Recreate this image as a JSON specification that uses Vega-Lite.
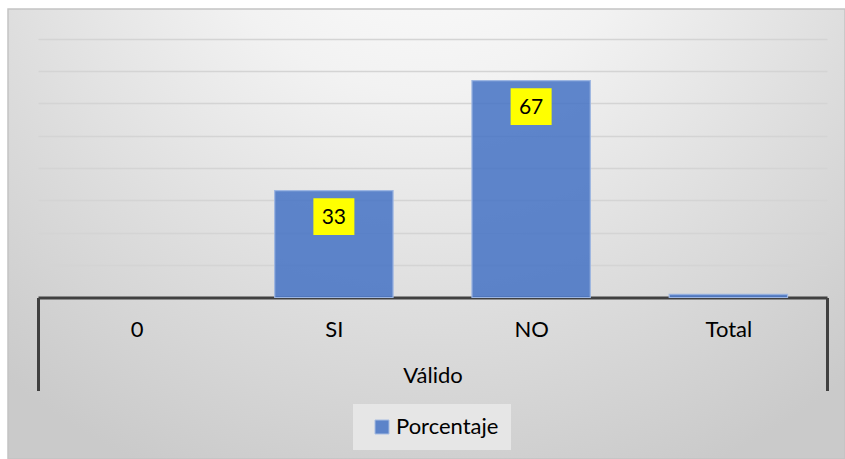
{
  "$schema": "https://vega.github.io/schema/vega-lite/v6.json",
  "width": 837,
  "height": 450,
  "autosize": {"type": "none"},
  "padding": {"left": 8, "top": 9, "right": 0, "bottom": 0},
  "background": "#ffffff",
  "config": {
    "font": "Lato",
    "view": {
      "fill": {
        "gradient": "radial",
        "x1": 0.5, "y1": 0.05, "r1": 0,
        "x2": 0.5, "y2": 0.05, "r2": 0.8,
        "stops": [
          {"offset": 0, "color": "#ffffff"},
          {"offset": 0.35, "color": "#f2f2f2"},
          {"offset": 0.7, "color": "#dcdcdc"},
          {"offset": 1, "color": "#cacaca"}
        ]
      },
      "stroke": "#c4c4c4",
      "strokeWidth": 1.5
    }
  },
  "data": {
    "values": [
      {"categoria": "0", "valor": null, "serie": "Porcentaje"},
      {"categoria": "SI", "valor": 33, "serie": "Porcentaje"},
      {"categoria": "NO", "valor": 67, "serie": "Porcentaje"},
      {"categoria": "Total", "valor": 1, "serie": "Porcentaje"}
    ]
  },
  "layer": [
    {
      "mark": {"type": "bar", "width": {"band": 0.6}, "fillOpacity": 0.85, "stroke": "#9db6e2", "strokeWidth": 1.2},
      "encoding": {
        "x": {
          "field": "categoria",
          "type": "nominal",
          "sort": null,
          "title": "Válido",
          "scale": {"domain": ["0", "SI", "NO", "Total"], "range": [30, 819], "paddingInner": 0, "paddingOuter": 0},
          "axis": {
            "offset": -161.5,
            "domainColor": "#404040",
            "domainWidth": 3,
            "tickColor": "#404040",
            "tickWidth": 3,
            "tickSize": 93,
            "tickBand": "extent",
            "tickOpacity": {"condition": {"test": "datum.index < 0 || datum.value === 'Total'", "value": 1}, "value": 0},
            "labelAngle": 0,
            "labelFont": "Lato",
            "labelFontSize": 22,
            "labelColor": "#000000",
            "labelBaseline": "middle",
            "labelPadding": -61,
            "titleFont": "Lato",
            "titleFontSize": 22,
            "titleFontWeight": "normal",
            "titleColor": "#000000",
            "titleBaseline": "middle",
            "titleY": 78
          }
        },
        "y": {
          "field": "valor",
          "type": "quantitative",
          "scale": {"domain": [0, 80], "range": [288.5, 29.5], "nice": false},
          "axis": {
            "values": [10, 20, 30, 40, 50, 60, 70, 80],
            "grid": true,
            "gridColor": "#d4d4d4",
            "gridWidth": 1.3,
            "labels": false,
            "ticks": false,
            "domain": false,
            "title": null
          }
        },
        "color": {
          "field": "serie",
          "type": "nominal",
          "scale": {"range": ["#4472c4"]},
          "legend": {
            "orient": "none",
            "legendX": 345,
            "legendY": 395,
            "direction": "horizontal",
            "title": null,
            "fillColor": "#e6e6e6",
            "padding": 12,
            "symbolType": "square",
            "symbolSize": 196,
            "symbolOffset": 6,
            "symbolOpacity": 0.85,
            "symbolStrokeColor": "#9db6e2",
            "symbolStrokeWidth": 1,
            "labelFont": "Lato",
            "labelFontSize": 22,
            "labelColor": "#000000",
            "labelOffset": 3
          }
        }
      }
    },
    {
      "transform": [{"filter": "datum.valor >= 10"}],
      "mark": {
        "type": "point",
        "shape": "M-1,-0.9L1,-0.9L1,0.9L-1,0.9Z",
        "size": 1681,
        "filled": true,
        "color": "#ffff00",
        "opacity": 1,
        "yOffset": 26
      },
      "encoding": {
        "x": {"field": "categoria", "type": "nominal", "sort": null},
        "y": {"field": "valor", "type": "quantitative"}
      }
    },
    {
      "transform": [{"filter": "datum.valor >= 10"}],
      "mark": {"type": "text", "font": "Lato", "fontSize": 21, "color": "#000000", "baseline": "middle", "yOffset": 27},
      "encoding": {
        "x": {"field": "categoria", "type": "nominal", "sort": null},
        "y": {"field": "valor", "type": "quantitative"},
        "text": {"field": "valor", "type": "quantitative"}
      }
    }
  ]
}
